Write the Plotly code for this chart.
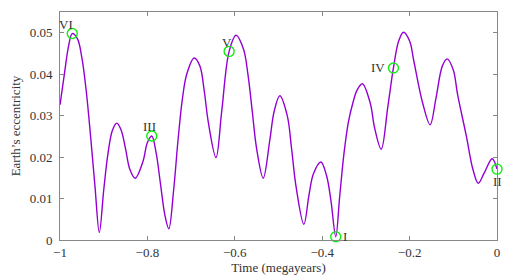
import plotly.graph_objects as go

# Eccentricity curve
time_my = [-1.000, -0.990, -0.980, -0.972, -0.960, -0.950, -0.940, -0.930, -0.920, -0.910,
           -0.900, -0.890, -0.880, -0.870, -0.860, -0.850, -0.840, -0.828, -0.810, -0.800,
           -0.790, -0.780, -0.770, -0.760, -0.751, -0.740, -0.730, -0.720, -0.710, -0.693,
           -0.680, -0.670, -0.660, -0.643, -0.630, -0.613, -0.597, -0.580, -0.570, -0.560,
           -0.550, -0.535, -0.520, -0.510, -0.497, -0.480, -0.470, -0.460, -0.442, -0.430,
           -0.420, -0.403, -0.390, -0.380, -0.369, -0.360, -0.350, -0.340, -0.330, -0.320,
           -0.308, -0.290, -0.280, -0.265, -0.250, -0.237, -0.225, -0.214, -0.200, -0.190,
           -0.170, -0.153, -0.140, -0.125, -0.114, -0.100, -0.090, -0.070, -0.055, -0.043,
           -0.030, -0.011, 0.000]
eccentricity = [0.0326, 0.0400, 0.0470, 0.0498, 0.0485, 0.0440, 0.0360, 0.0250, 0.0130, 0.0018,
                0.0120, 0.0210, 0.0265, 0.0282, 0.0265, 0.0220, 0.0170, 0.0149, 0.0190, 0.0235,
                0.0251, 0.0210, 0.0135, 0.0060, 0.0027, 0.0120, 0.0240, 0.0340, 0.0400, 0.0439,
                0.0420, 0.0360, 0.0280, 0.0199, 0.0310, 0.0455, 0.0494, 0.0460, 0.0400, 0.0310,
                0.0220, 0.0149, 0.0240, 0.0310, 0.0348, 0.0300, 0.0220, 0.0130, 0.0038, 0.0110,
                0.0160, 0.0188, 0.0155, 0.0095, 0.0008, 0.0105, 0.0210, 0.0285, 0.0330, 0.0362,
                0.0377, 0.0330, 0.0270, 0.0219, 0.0320, 0.0415, 0.0480, 0.0501, 0.0480, 0.0430,
                0.0330, 0.0278, 0.0340, 0.0420, 0.0437, 0.0410, 0.0350, 0.0250, 0.0170, 0.0137,
                0.0160, 0.0196, 0.0171]

# Marked points
mark_t = [-0.369, 0.000, -0.790, -0.237, -0.613, -0.972]
mark_e = [0.0008, 0.0171, 0.0251, 0.0415, 0.0455, 0.0498]
mark_labels = ["I", "II", "III", "IV", "V", "VI"]
# label offsets from each marker (pixels)
label_dx = [9, 0, -2, -15, -2, -6]
label_dy = [0, -12, 9, 0, 9, 9]

x_ticks = [-1, -0.8, -0.6, -0.4, -0.2, 0]
x_tick_text = ["\u22121", "\u22120.8", "\u22120.6", "\u22120.4", "\u22120.2", "0"]
y_ticks = [0, 0.01, 0.02, 0.03, 0.04, 0.05]
y_tick_text = ["0", "0.01", "0.02", "0.03", "0.04", "0.05"]

FONT = "Liberation Serif"
TXT = "#333333"

fig = go.Figure()
fig.add_trace(go.Scatter(
    x=time_my, y=eccentricity, mode="lines",
    line=dict(color="#9400D3", width=1.4, shape="spline", smoothing=1.0),
    hoverinfo="skip", showlegend=False, cliponaxis=False))
fig.add_trace(go.Scatter(
    x=mark_t, y=mark_e, mode="markers",
    marker=dict(symbol="circle-open", size=10, color="#11ee11", line=dict(width=1.4, color="#11ee11")),
    showlegend=False, cliponaxis=False))

for t, e, lab, dx, dy in zip(mark_t, mark_e, mark_labels, label_dx, label_dy):
    fig.add_annotation(x=t, y=e, text=lab, showarrow=False,
                       xanchor="center", yanchor="middle", xshift=dx, yshift=dy,
                       font=dict(family=FONT, size=13, color=TXT))

axis_common = dict(
    showline=True, linecolor="#888888", linewidth=1, mirror="ticks",
    ticks="inside", ticklen=4, tickcolor="#888888", tickwidth=1,
    showgrid=False, zeroline=False, automargin=False,
    tickfont=dict(family=FONT, size=13, color=TXT),
)

# page body has an 8px default margin; figure is sized to sit in the window
fig.update_layout(
    width=512, height=272,
    margin=dict(l=52, r=23, t=4, b=40),
    paper_bgcolor="white", plot_bgcolor="white",
    font=dict(family=FONT, size=13, color=TXT),
    xaxis=dict(range=[-1, 0], tickvals=x_ticks, ticktext=x_tick_text,
               title=dict(text="Time (megayears)", standoff=4,
                          font=dict(family=FONT, size=13, color=TXT)),
               **axis_common),
    yaxis=dict(range=[0, 0.055], tickvals=y_ticks, ticktext=y_tick_text,
               ticklabelstandoff=4,
               title=dict(text="Earth\u2019s eccentricity", standoff=8,
                          font=dict(family=FONT, size=13, color=TXT)),
               **axis_common),
)

fig.write_html("out.html")
